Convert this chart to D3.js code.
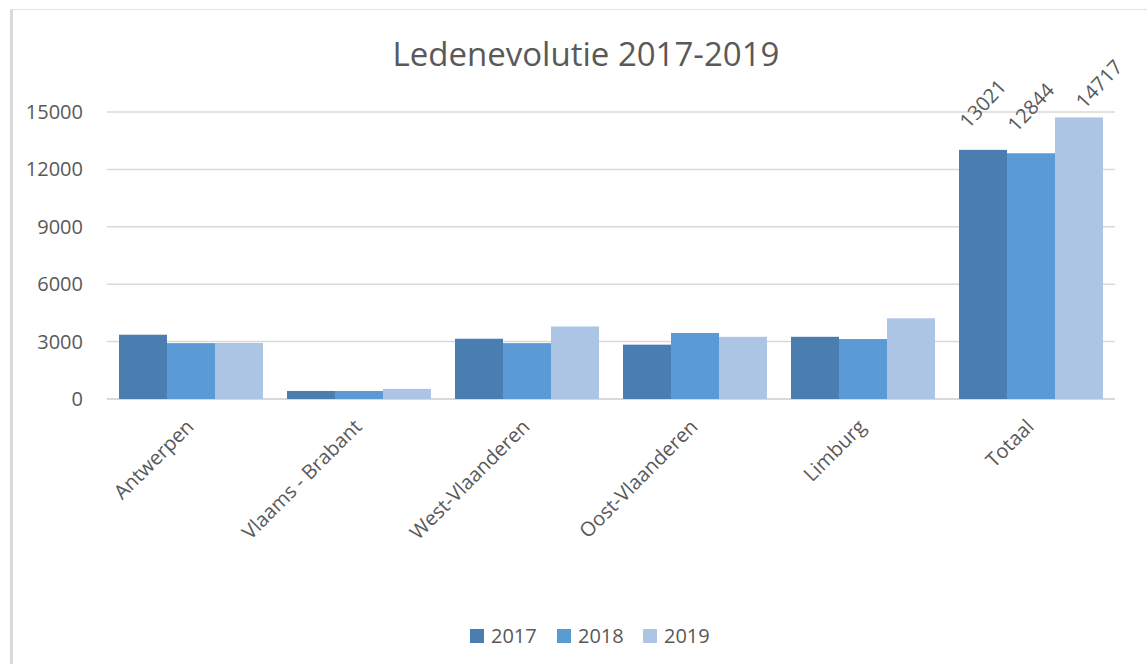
<!DOCTYPE html>
<html lang="nl">
<head>
  <meta charset="utf-8">
  <title>Ledenevolutie 2017-2019</title>
  <script src="https://d3js.org/d3.v7.min.js"></script>
  <style>
    body { margin: 0; background: #fff; }
    #chart text { font-family: "Open Sans", sans-serif; fill: #595959; }
  </style>
</head>
<body>
  <div id="chart"></div>
  <script>
    "use strict"

    // data
    var provincies = ["Antwerpen", "Vlaams - Brabant", "West-Vlaanderen", "Oost-Vlaanderen", "Limburg", "Totaal"];
    var jaren = ["2017", "2018", "2019"];
    var leden2017 = [3360, 420, 3150, 2840, 3251, 13021];
    var leden2018 = [2920, 420, 2920, 3450, 3134, 12844];
    var leden2019 = [2930, 530, 3790, 3250, 4217, 14717];
    var yTicks = [0, 3000, 6000, 9000, 12000, 15000];
    var kleuren = ["#4a7eb0", "#5b9bd5", "#adc5e5"];

    var reeksen = [leden2017, leden2018, leden2019];

    var breedte = 1147, hoogte = 664;
    var margin = {top: 112, right: 32, bottom: 265, left: 107};
    var plotB = breedte - margin.left - margin.right,
        plotH = hoogte - margin.top - margin.bottom;

    var svg = d3.select('#chart').append('svg')
      .attr('width', breedte)
      .attr('height', hoogte);

    // kader
    svg.append('line').attr('x1', 11.5).attr('x2', 11.5).attr('y1', 9).attr('y2', hoogte)
      .attr('stroke', '#d9d9d9').attr('stroke-width', 3);
    svg.append('line').attr('x1', 10).attr('x2', breedte).attr('y1', 9.5).attr('y2', 9.5)
      .attr('stroke', '#e3e3e3').attr('stroke-width', 1);

    svg.append('text')
      .attr('x', 586).attr('y', 66)
      .attr('text-anchor', 'middle')
      .style('font-size', '33px')
      .text('Ledenevolutie 2017-2019');

    var g = svg.append('g').attr('transform', 'translate(' + margin.left + ',' + margin.top + ')');

    var x = d3.scaleBand().domain(provincies).range([0, plotB]).paddingInner(24 / 168).paddingOuter(12 / 168);
    var xs = d3.scaleBand().domain(jaren).range([0, x.bandwidth()]);
    var y = d3.scaleLinear().domain([0, 15000]).range([plotH, 0]);

    // rasterlijnen
    g.selectAll('.grid').data(yTicks).enter().append('line')
      .attr('x1', 0).attr('x2', plotB)
      .attr('y1', d => y(d)).attr('y2', d => y(d))
      .attr('stroke', '#d9d9d9').attr('stroke-width', d => d === 0 ? 2 : 1.5);

    var yAxis = g.append('g').call(d3.axisLeft(y).tickValues(yTicks).tickFormat(d3.format('d')).tickSize(0).tickPadding(24));
    yAxis.select('.domain').remove();
    yAxis.selectAll('text').style('font-size', '20px').attr('font-family', null);

    // staven
    reeksen.forEach(function (reeks, j) {
      g.selectAll('.bar' + j).data(reeks).enter().append('rect')
        .attr('x', (d, i) => x(provincies[i]) + xs(jaren[j]))
        .attr('width', xs.bandwidth())
        .attr('y', d => y(d))
        .attr('height', d => plotH - y(d))
        .attr('fill', kleuren[j]);
    });

    // labels boven de totalen
    var laatste = provincies.length - 1;
    reeksen.forEach(function (reeks, j) {
      var d = reeks[laatste];
      var cx = x(provincies[laatste]) + xs(jaren[j]) + xs.bandwidth() / 2;
      var cy = y(d) - 46;
      if (cy < 84 - margin.top) { cx += (84 - margin.top - cy) * 1.6; cy = 84 - margin.top; }
      g.append('text')
        .attr('transform', 'translate(' + cx + ',' + cy + ') rotate(-47)')
        .attr('text-anchor', 'middle')
        .attr('dy', '0.35em')
        .style('font-size', '20px')
        .text(d);
    });

    // x-as labels
    g.selectAll('.xlab').data(provincies).enter().append('text')
      .attr('transform', d => 'translate(' + (x(d) + x.bandwidth() / 2 - 1) + ',' + (plotH + 24) + ') rotate(-45)')
      .attr('text-anchor', 'end')
      .attr('dy', '0.35em')
      .style('font-size', '20px')
      .text(d => d);

    // legende
    var legX = [470, 557, 643];
    var leg = svg.selectAll('.leg').data(jaren).enter().append('g')
      .attr('transform', (d, i) => 'translate(' + legX[i] + ',629)');
    leg.append('rect').attr('width', 14).attr('height', 14).attr('fill', (d, i) => kleuren[i]);
    leg.append('text').attr('x', 21).attr('y', 14).style('font-size', '20px').text(d => d);
  </script>
</body>
</html>
